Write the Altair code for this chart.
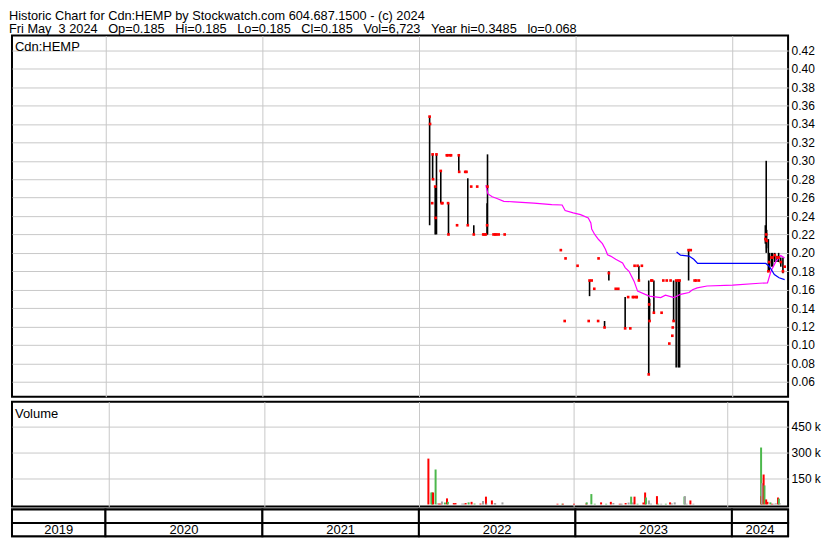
import altair as alt
import pandas as pd

# ---------------- data ----------------
GAP = "\u00a0\u00a0\u00a0"
title_line1 = "Historic Chart for Cdn:HEMP by Stockwatch.com 604.687.1500 - (c) 2024"
title_line2 = GAP.join(["Fri May\u00a0\u00a03 2024", "Op=0.185", "Hi=0.185", "Lo=0.185",
                        "Cl=0.185", "Vol=6,723", "Year hi=0.3485", "lo=0.068"])
x_domain = ["2019-05-28", "2024-05-11"]
year_starts = ["2020-01-01", "2021-01-01", "2022-01-01", "2023-01-01", "2024-01-01"]
years = [2019, 2020, 2021, 2022, 2023, 2024]
price_ticks = [0.06, 0.08, 0.10, 0.12, 0.14, 0.16, 0.18, 0.20, 0.22, 0.24, 0.26,
               0.28, 0.30, 0.32, 0.34, 0.36, 0.38, 0.40, 0.42]
vol_ticks = [150000, 300000, 450000]

# (date, high, low, close)
bars_2022 = [
    ("2022-01-26", 0.3485, 0.23, 0.348), ("2022-01-27", 0.34, 0.34, 0.34),
    ("2022-02-01", 0.254, 0.254, 0.254), ("2022-02-02", 0.307, 0.28, 0.307),
    ("2022-02-03", 0.28, 0.28, 0.28), ("2022-02-08", 0.272, 0.22, 0.272),
    ("2022-02-09", 0.238, 0.238, 0.238), ("2022-02-11", 0.307, 0.22, 0.307),
    ("2022-02-21", 0.289, 0.254, 0.289), ("2022-02-23", 0.254, 0.254, 0.254),
    ("2022-02-25", 0.254, 0.254, 0.254), ("2022-03-07", 0.306, 0.306, 0.306),
    ("2022-03-09", 0.306, 0.306, 0.306), ("2022-03-10", 0.254, 0.254, 0.254),
    ("2022-03-11", 0.254, 0.22, 0.22), ("2022-03-15", 0.306, 0.306, 0.306),
    ("2022-03-17", 0.306, 0.306, 0.306), ("2022-03-31", 0.23, 0.23, 0.23),
    ("2022-04-04", 0.307, 0.289, 0.306), ("2022-04-05", 0.288, 0.288, 0.288),
    ("2022-04-19", 0.288, 0.288, 0.288), ("2022-04-22", 0.288, 0.288, 0.288),
    ("2022-04-25", 0.281, 0.23, 0.23), ("2022-05-03", 0.272, 0.272, 0.272),
    ("2022-05-09", 0.23, 0.22, 0.22), ("2022-05-17", 0.272, 0.272, 0.272),
    ("2022-05-31", 0.22, 0.22, 0.22), ("2022-06-03", 0.22, 0.22, 0.22),
    ("2022-06-06", 0.22, 0.22, 0.22), ("2022-06-09", 0.254, 0.22, 0.23),
    ("2022-06-10", 0.307, 0.22, 0.272), ("2022-06-24", 0.22, 0.22, 0.22),
    ("2022-06-28", 0.22, 0.22, 0.22), ("2022-07-01", 0.22, 0.22, 0.22),
    ("2022-07-06", 0.22, 0.22, 0.22), ("2022-07-20", 0.22, 0.22, 0.22),
    ("2022-11-28", 0.203, 0.203, 0.203), ("2022-12-07", 0.126, 0.126, 0.126),
    ("2022-12-09", 0.194, 0.194, 0.194),
]
bars_2023 = [
    ("2023-01-06", 0.186, 0.186, 0.186), ("2023-02-01", 0.126, 0.126, 0.126),
    ("2023-02-03", 0.17, 0.153, 0.17), ("2023-02-08", 0.17, 0.17, 0.17),
    ("2023-02-14", 0.161, 0.161, 0.161), ("2023-02-23", 0.126, 0.126, 0.126),
    ("2023-02-24", 0.194, 0.194, 0.194), ("2023-03-10", 0.126, 0.119, 0.119),
    ("2023-03-20", 0.18, 0.17, 0.178), ("2023-04-05", 0.161, 0.161, 0.161),
    ("2023-04-11", 0.161, 0.161, 0.161), ("2023-04-27", 0.152, 0.118, 0.118),
    ("2023-05-04", 0.152, 0.152, 0.152), ("2023-05-09", 0.118, 0.118, 0.118),
    ("2023-05-15", 0.152, 0.152, 0.152), ("2023-05-17", 0.152, 0.152, 0.152),
    ("2023-05-19", 0.186, 0.186, 0.186), ("2023-05-23", 0.152, 0.152, 0.152),
    ("2023-05-24", 0.152, 0.152, 0.152), ("2023-05-26", 0.186, 0.186, 0.186),
    ("2023-05-29", 0.186, 0.17, 0.17), ("2023-06-05", 0.186, 0.186, 0.186),
    ("2023-06-21", 0.17, 0.068, 0.068), ("2023-06-22", 0.151, 0.126, 0.144),
    ("2023-06-23", 0.15, 0.126, 0.126), ("2023-06-27", 0.17, 0.17, 0.17),
    ("2023-06-29", 0.17, 0.17, 0.17), ("2023-07-03", 0.17, 0.135, 0.135),
    ("2023-07-21", 0.135, 0.135, 0.135), ("2023-07-25", 0.17, 0.17, 0.17),
    ("2023-08-02", 0.17, 0.17, 0.17), ("2023-08-08", 0.1015, 0.1015, 0.1015),
    ("2023-08-11", 0.17, 0.17, 0.17), ("2023-08-15", 0.11, 0.11, 0.11),
    ("2023-08-16", 0.119, 0.119, 0.119), ("2023-08-18", 0.17, 0.126, 0.126),
    ("2023-08-24", 0.17, 0.0755, 0.17), ("2023-08-29", 0.17, 0.0755, 0.17),
    ("2023-09-01", 0.17, 0.0755, 0.17), ("2023-09-22", 0.204, 0.17, 0.203),
    ("2023-09-27", 0.203, 0.203, 0.203), ("2023-10-06", 0.17, 0.17, 0.17),
    ("2023-10-10", 0.17, 0.17, 0.17), ("2023-10-16", 0.17, 0.17, 0.17),
]
bars_2024 = [
    ("2024-03-19", 0.23, 0.21, 0.215), ("2024-03-21", 0.30, 0.20, 0.22),
    ("2024-03-22", 0.225, 0.205, 0.213), ("2024-03-26", 0.215, 0.18, 0.18),
    ("2024-03-28", 0.20, 0.18, 0.19), ("2024-04-02", 0.20, 0.185, 0.195),
    ("2024-04-05", 0.20, 0.185, 0.195), ("2024-04-10", 0.20, 0.19, 0.1975),
    ("2024-04-15", 0.197, 0.19, 0.195), ("2024-04-19", 0.20, 0.19, 0.195),
    ("2024-04-24", 0.195, 0.185, 0.19), ("2024-04-29", 0.195, 0.178, 0.18),
    ("2024-05-03", 0.185, 0.185, 0.185),
]

magenta_dates = ["2022-06-06", "2022-06-11", "2022-06-21", "2022-07-02", "2022-07-18",
                 "2022-08-10", "2022-09-26", "2022-11-07", "2022-12-01", "2022-12-08",
                 "2022-12-27", "2023-01-13", "2023-01-31", "2023-02-06", "2023-02-08",
                 "2023-02-15", "2023-02-24", "2023-03-05", "2023-03-12", "2023-03-17",
                 "2023-03-24", "2023-04-05", "2023-04-21", "2023-04-27", "2023-05-06",
                 "2023-05-18", "2023-05-26", "2023-06-22", "2023-07-19", "2023-07-30",
                 "2023-08-19", "2023-09-03", "2023-09-23", "2023-10-01", "2023-10-12",
                 "2023-11-04", "2024-01-03", "2024-03-05", "2024-03-24", "2024-04-01",
                 "2024-04-13", "2024-04-24", "2024-05-03"]
magenta_vals = [0.2735, 0.264, 0.261, 0.259, 0.256, 0.2555, 0.254, 0.2525, 0.252, 0.246,
                0.2435, 0.2415, 0.238, 0.2325, 0.226, 0.22, 0.2145, 0.21, 0.204, 0.198,
                0.1965, 0.193, 0.189, 0.184, 0.180, 0.169, 0.1585, 0.153, 0.1515, 0.154,
                0.1515, 0.155, 0.157, 0.160, 0.162, 0.164, 0.165, 0.167, 0.1675, 0.180,
                0.191, 0.197, 0.1945]
blue_dates = ["2023-08-25", "2023-09-03", "2023-09-23", "2023-10-04", "2023-10-13",
              "2024-03-20", "2024-03-28", "2024-04-09", "2024-04-20", "2024-05-03"]
blue_vals = [0.201, 0.1975, 0.1965, 0.193, 0.1885, 0.1885, 0.1855, 0.1765, 0.173, 0.171]

# (date, volume, direction)
volume_2022 = [
    ("2022-01-24", 265000, "down"), ("2022-01-31", 69000, "up"), ("2022-02-02", 69000, "up"),
    ("2022-02-04", 69000, "down"), ("2022-02-10", 202000, "up"), ("2022-02-14", 6000, "flat"),
    ("2022-02-18", 5000, "down"), ("2022-02-22", 5000, "down"), ("2022-02-25", 17000, "flat"),
    ("2022-03-04", 11000, "up"), ("2022-03-09", 35000, "down"), ("2022-03-11", 15000, "up"),
    ("2022-03-25", 8000, "down"), ("2022-03-29", 8000, "down"), ("2022-04-14", 5000, "flat"),
    ("2022-04-18", 5000, "flat"), ("2022-04-22", 8000, "down"), ("2022-04-29", 12000, "up"),
    ("2022-05-06", 15000, "down"), ("2022-05-13", 5000, "up"), ("2022-05-27", 5000, "down"),
    ("2022-06-02", 20000, "flat"), ("2022-06-09", 45000, "down"), ("2022-06-10", 5000, "flat"),
    ("2022-06-23", 23000, "down"), ("2022-06-30", 8000, "flat"), ("2022-07-01", 6000, "flat"),
    ("2022-07-18", 12000, "flat"), ("2022-11-25", 4000, "down"), ("2022-12-06", 4000, "up"),
    ("2022-12-08", 4000, "down"),
]
volume_2023 = [
    ("2023-01-03", 4000, "down"), ("2023-02-01", 5000, "down"), ("2023-02-02", 12000, "up"),
    ("2023-02-13", 60000, "up"), ("2023-02-21", 4000, "up"), ("2023-03-08", 12000, "down"),
    ("2023-03-20", 4000, "up"), ("2023-03-31", 15000, "down"), ("2023-04-06", 8000, "flat"),
    ("2023-04-21", 4000, "down"), ("2023-04-24", 4000, "flat"), ("2023-04-26", 4000, "flat"),
    ("2023-05-05", 8000, "down"), ("2023-05-12", 11000, "flat"), ("2023-05-18", 45000, "up"),
    ("2023-05-22", 11000, "flat"), ("2023-05-26", 45000, "down"), ("2023-06-02", 4000, "up"),
    ("2023-06-16", 11000, "down"), ("2023-06-20", 69000, "down"), ("2023-06-22", 40000, "up"),
    ("2023-06-29", 23000, "flat"), ("2023-07-04", 5000, "flat"), ("2023-07-18", 48000, "down"),
    ("2023-07-21", 4000, "up"), ("2023-07-28", 4000, "flat"), ("2023-08-08", 4000, "up"),
    ("2023-08-18", 12000, "down"), ("2023-08-22", 6000, "flat"), ("2023-08-29", 12000, "flat"),
    ("2023-09-21", 45000, "up"), ("2023-09-22", 48000, "flat"), ("2023-09-26", 4000, "flat"),
    ("2023-10-05", 23000, "down"), ("2023-10-12", 4000, "flat"),
]
volume_2024 = [
    ("2024-03-20", 329000, "up"), ("2024-03-21", 48000, "down"), ("2024-03-22", 123000, "flat"),
    ("2024-03-26", 173000, "down"), ("2024-03-28", 110000, "up"), ("2024-04-01", 29000, "down"),
    ("2024-04-04", 15000, "down"), ("2024-04-11", 12000, "up"), ("2024-04-15", 4000, "down"),
    ("2024-04-19", 4000, "flat"), ("2024-04-24", 6000, "flat"), ("2024-04-29", 40000, "down"),
    ("2024-05-01", 34000, "up"), ("2024-05-03", 6723, "flat"),
]

# ---------------- tables ----------------
bars_df = pd.DataFrame(bars_2022 + bars_2023 + bars_2024, columns=["date", "hi", "lo", "cl"])
mag_df = pd.DataFrame({"date": magenta_dates, "v": magenta_vals})
blue_df = pd.DataFrame({"date": blue_dates, "v": blue_vals})
vol_df = pd.DataFrame(volume_2022 + volume_2023 + volume_2024, columns=["date", "vol", "dir"])

band_rows = []
for y in years:
    s = max(f"{y}-01-01", x_domain[0])
    e = min(f"{y + 1}-01-01", x_domain[1])
    mid = (pd.Timestamp(s) + (pd.Timestamp(e) - pd.Timestamp(s)) / 2).strftime("%Y-%m-%dT%H:%M:%SZ")
    for r in ["top", "bottom"]:
        band_rows.append({"year": str(y), "row": r, "start": s, "end": e, "mid": mid})
band_df = pd.DataFrame(band_rows)


def dt(s):
    y, m, d = map(int, s.split("-"))
    return alt.DateTime(year=y, month=m, date=d, utc=True)


W = 778
PH = 362
VH = 105
BH = 27
FONT = "Liberation Sans"

xscale = alt.Scale(type="utc", domain=[dt(x_domain[0]), dt(x_domain[1])])
xaxis = alt.Axis(values=[dt(s) for s in year_starts], grid=True, labels=False,
                 ticks=False, domain=False, title=None)
X = alt.X("date:T", scale=xscale, axis=xaxis)

yscale = alt.Scale(domain=[0.0438, 0.436], nice=False, zero=False)
yaxis = alt.Axis(orient="right", values=price_ticks, format=".2f", grid=True,
                 ticks=False, domain=False, title=None, labelPadding=3)

# header lines, placed just above the price panel
h1 = alt.Chart(pd.DataFrame({"t": [title_line1]})).mark_text(
    align="left", baseline="middle", fontSize=12.8, font=FONT, color="black").encode(
    x=alt.value(-3), y=alt.value(-20), text="t:N")
h2 = alt.Chart(pd.DataFrame({"t": [title_line2]})).mark_text(
    align="left", baseline="middle", fontSize=12.8, font=FONT, color="black").encode(
    x=alt.value(-3), y=alt.value(-6.4), text="t:N")

hl = alt.Chart(bars_df).mark_rule(color="black", strokeWidth=1.6).encode(
    x=X, y=alt.Y("lo:Q", scale=yscale, axis=yaxis), y2="hi:Q")
closes = alt.Chart(bars_df).mark_square(color="#ff0000", size=7, opacity=1).encode(
    x=X, y=alt.Y("cl:Q", scale=yscale, axis=yaxis))
mag = alt.Chart(mag_df).mark_line(color="#ff00ff", strokeWidth=1.2).encode(
    x=X, y=alt.Y("v:Q", scale=yscale, axis=yaxis))
blue = alt.Chart(blue_df).mark_line(color="#0000ff", strokeWidth=1.2).encode(
    x=X, y=alt.Y("v:Q", scale=yscale, axis=yaxis))
plabel = alt.Chart(pd.DataFrame({"t": ["Cdn:HEMP"]})).mark_text(
    align="left", baseline="middle", fontSize=13, font=FONT, color="black").encode(
    x=alt.value(3), y=alt.value(11), text="t:N")

price = alt.layer(hl, mag, blue, closes, plabel, h1, h2).properties(width=W, height=PH)

vscale = alt.Scale(domain=[-11500, 594000], nice=False, zero=False)
vaxis = alt.Axis(orient="right", values=vol_ticks, grid=True, ticks=False, domain=False,
                 title=None, labelPadding=3,
                 labelExpr="format(datum.value / 1000, 'd') + ' k'")
vbars = alt.Chart(vol_df).mark_bar(size=2).encode(
    x=X, y=alt.Y("vol:Q", scale=vscale, axis=vaxis), y2=alt.datum(0),
    color=alt.Color("dir:N", scale=alt.Scale(domain=["down", "up", "flat"],
                                             range=["#ff0000", "#4cb84c", "#a0a0a0"]),
                    legend=None))
vlabel = alt.Chart(pd.DataFrame({"t": ["Volume"]})).mark_text(
    align="left", baseline="middle", fontSize=13, font=FONT, color="black").encode(
    x=alt.value(3), y=alt.value(12), text="t:N")
volume = alt.layer(vbars, vlabel).properties(width=W, height=VH)

rowscale = alt.Scale(domain=["top", "bottom"], paddingInner=0, paddingOuter=0)
brect = alt.Chart(band_df).mark_rect(fill="white", stroke="black", strokeWidth=2).encode(
    x=alt.X("start:T", scale=xscale, axis=None), x2="end:T",
    y=alt.Y("row:N", scale=rowscale, axis=None))
btext = alt.Chart(band_df).transform_filter(alt.datum.row == "bottom").mark_text(
    fontSize=13, font=FONT, color="black", baseline="middle").encode(
    x=alt.X("mid:T", scale=xscale, axis=None),
    y=alt.Y("row:N", scale=rowscale, axis=None), text="year:N")
band = alt.layer(brect, btext).properties(width=W, height=BH)

lower = alt.vconcat(volume, band, spacing=0)
chart = alt.vconcat(price, lower, spacing=3).properties(padding=0).configure_view(
    stroke="black", strokeWidth=2).configure_axis(
    labelFont=FONT, labelFontSize=12, labelColor="black", gridColor="#c8c8c8", gridWidth=1)

chart.save("out.html", embed_options={"renderer": "svg", "actions": False})
